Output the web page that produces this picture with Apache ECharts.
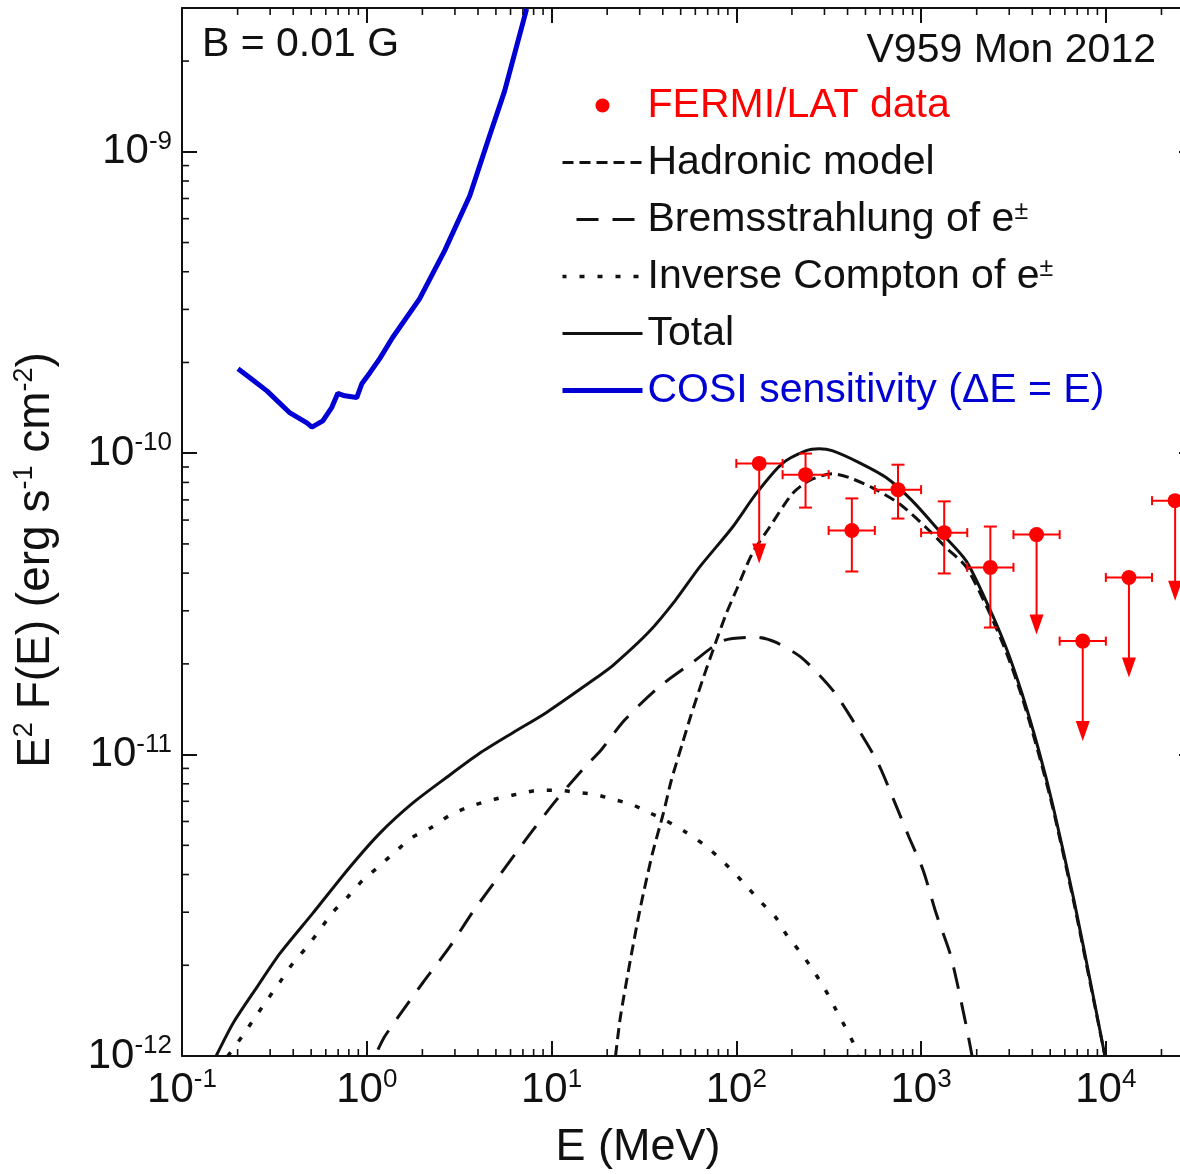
<!DOCTYPE html>
<html>
<head>
<meta charset="utf-8">
<script src="https://cdn.jsdelivr.net/npm/echarts@6/dist/echarts.min.js"></script>
<style>
  html, body { margin: 0; padding: 0; background: #ffffff; }
  #chart { width: 1180px; height: 1174px; }
</style>
</head>
<body>
<div id="chart"></div>
<script>
// ---- Axis ranges (E in MeV, E^2 F(E) in erg s^-1 cm^-2) ----
const xRange = [0.1, 30000];
const yRange = [1e-12, 3e-9];

// ---- Model curves ----
const totalE = [0.153, 0.189, 0.254, 0.339, 0.511, 0.809, 1.175, 1.77, 2.71, 4.08, 6.15, 9.4, 18.2, 21.6, 33.4, 46.8, 63.1, 95.1, 128, 177, 239, 281, 330, 462, 647, 894, 1250, 1750, 2330, 2880, 3510, 4340, 5180, 6720, 8300, 9890];
const totalF = [1.0e-12, 1.285e-12, 1.69e-12, 2.19e-12, 2.98e-12, 4.23e-12, 5.48e-12, 6.90e-12, 8.41e-12, 1.01e-11, 1.18e-11, 1.38e-11, 1.83e-11, 1.98e-11, 2.54e-11, 3.25e-11, 4.18e-11, 5.67e-11, 7.34e-11, 9.24e-11, 1.02e-10, 1.035e-10, 1.02e-10, 9.31e-11, 8.30e-11, 6.96e-11, 5.54e-11, 4.40e-11, 3.08e-11, 2.27e-11, 1.60e-11, 1.03e-11, 6.74e-12, 3.29e-12, 1.73e-12, 1.0e-12];

const hadronicE = [22.2, 23.6, 26.7, 30.3, 35.2, 40.3, 44.5, 51.1, 56.4, 65.5, 78.0, 88.3, 100, 122, 151, 201, 248, 330, 408, 543, 760, 1064, 1365, 1750, 2330, 2880, 3510, 4340, 5180, 6720, 8300, 9890];
const hadronicF = [1.0e-12, 1.35e-12, 2.08e-12, 3.12e-12, 4.71e-12, 6.39e-12, 8.22e-12, 1.09e-11, 1.33e-11, 1.76e-11, 2.39e-11, 2.94e-11, 3.51e-11, 4.65e-11, 5.67e-11, 7.34e-11, 8.11e-11, 8.55e-11, 8.30e-11, 7.69e-11, 6.81e-11, 5.67e-11, 4.86e-11, 4.20e-11, 2.98e-11, 2.20e-11, 1.56e-11, 1.0e-11, 6.6e-12, 3.22e-12, 1.70e-12, 1.0e-12];

const bremsE = [1.15, 1.25, 1.47, 2.01, 2.81, 3.74, 5.24, 7.42, 10.6, 15.1, 18.4, 24.8, 37.9, 57.8, 85.1, 131, 163, 227, 334, 451, 586, 723, 861, 1025, 1205, 1435, 1567, 1774, 1888];
const bremsF = [1.05e-12, 1.16e-12, 1.34e-12, 1.75e-12, 2.30e-12, 3.00e-12, 3.98e-12, 5.32e-12, 7.06e-12, 9.08e-12, 1.03e-11, 1.30e-11, 1.67e-11, 2.02e-11, 2.39e-11, 2.45e-11, 2.36e-11, 2.09e-11, 1.63e-11, 1.23e-11, 9.35e-12, 6.90e-12, 5.32e-12, 4.14e-12, 2.98e-12, 2.19e-12, 1.75e-12, 1.22e-12, 1.0e-12];

const icE = [0.177, 0.211, 0.248, 0.288, 0.339, 0.398, 0.474, 0.557, 0.655, 0.789, 0.951, 1.15, 1.42, 1.77, 2.25, 2.81, 3.52, 4.45, 5.44, 6.89, 8.61, 10.8, 13.6, 17.1, 21.4, 27.1, 33.4, 41.3, 52.3, 66.3, 80.0, 97.6, 115, 136, 163, 189, 225, 264, 303, 343, 388, 434, 451];
const icF = [1.0e-12, 1.16e-12, 1.34e-12, 1.53e-12, 1.76e-12, 2.03e-12, 2.30e-12, 2.62e-12, 3.00e-12, 3.37e-12, 3.83e-12, 4.23e-12, 4.75e-12, 5.32e-12, 5.74e-12, 6.29e-12, 6.69e-12, 7.00e-12, 7.22e-12, 7.44e-12, 7.62e-12, 7.62e-12, 7.50e-12, 7.38e-12, 7.11e-12, 6.84e-12, 6.44e-12, 6.06e-12, 5.57e-12, 5.04e-12, 4.57e-12, 4.05e-12, 3.63e-12, 3.24e-12, 2.89e-12, 2.50e-12, 2.19e-12, 1.90e-12, 1.66e-12, 1.44e-12, 1.25e-12, 1.09e-12, 1.0e-12];

const cosiE = [0.201, 0.233, 0.288, 0.384, 0.474, 0.505, 0.578, 0.647, 0.697, 0.760, 0.883, 0.940, 1.04, 1.175, 1.38, 1.93, 2.64, 3.61, 4.62, 5.57, 7.33];
const cosiF = [1.905e-10, 1.78e-10, 1.61e-10, 1.36e-10, 1.26e-10, 1.22e-10, 1.28e-10, 1.42e-10, 1.58e-10, 1.55e-10, 1.53e-10, 1.70e-10, 1.85e-10, 2.06e-10, 2.42e-10, 3.25e-10, 4.70e-10, 7.15e-10, 1.13e-9, 1.59e-9, 2.98e-9];

// ---- Fermi/LAT spectral points (bin centre, bin edges, flux, flux errors, upper-limit flag) ----
const fermiE   = [133, 237, 422, 750, 1334, 2371, 4217, 7499, 13335, 23714];
const fermiElo = [100, 178, 316, 562, 1000, 1778, 3162, 5623, 10000, 17783];
const fermiEhi = [178, 316, 562, 1000, 1778, 3162, 5623, 10000, 17783, 31623];
const fermiF   = [9.25e-11, 8.49e-11, 5.54e-11, 7.57e-11, 5.45e-11, 4.18e-11, 5.37e-11, 2.38e-11, 3.87e-11, 6.96e-11];
const fermiFlo = [null, 6.60e-11, 4.05e-11, 6.07e-11, 3.99e-11, 2.64e-11, null, null, null, null];
const fermiFhi = [null, 9.97e-11, 7.08e-11, 9.16e-11, 6.92e-11, 5.71e-11, null, null, null, null];
const fermiUL  = [1, 0, 0, 0, 0, 0, 1, 1, 1, 1];

// ---- Styling ----
const FONT = '"Liberation Sans", Arial, Helvetica, sans-serif';
const INK = '#111111';
const RED = '#ff0000';
const BLUE = '#0000d4';
const MINOR_LEN = 7;
const ARROW_LEN = 100;

const pairs = (xs, ys) => xs.map((x, i) => [x, ys[i]]);

// minor ticks at 2..9 x 10^k inside the axis ranges
function minorValues(lo, hi) {
  const out = [];
  for (let k = Math.floor(Math.log10(lo)); k <= Math.ceil(Math.log10(hi)); k++) {
    for (let m = 2; m <= 9; m++) {
      const v = m * Math.pow(10, k);
      if (v > lo && v < hi) out.push(v);
    }
  }
  return out;
}
const xMinor = minorValues(xRange[0], xRange[1]);
const yMinor = minorValues(yRange[0], yRange[1]);
const tickData = xMinor.map(v => [v, yRange[0], 0]).concat(yMinor.map(v => [xRange[0], v, 1]));

function powLabel(value) {
  const e = Math.log10(value);
  const r = Math.round(e);
  if (Math.abs(e - r) > 1e-6) return '';
  return '{b|10}{s|' + r + '}';
}
const labelRich = {
  b: { fontSize: 42, fontFamily: FONT, color: INK, lineHeight: 46 },
  s: { fontSize: 26, fontFamily: FONT, color: INK, lineHeight: 34, verticalAlign: 'top' }
};

const axisCommon = {
  type: 'log',
  logBase: 10,
  axisLine: { show: true, onZero: false, lineStyle: { color: INK, width: 2 } },
  axisTick: { show: true, inside: true, length: 15, lineStyle: { color: INK, width: 2 } },
  minorTick: { show: false },
  splitLine: { show: false },
  minorSplitLine: { show: false }
};

function renderTicks(params, api) {
  const cs = params.coordSys;
  const st = { stroke: INK, lineWidth: 1.6 };
  if (api.value(2) === 0) {
    const x = api.coord([api.value(0), yRange[0]])[0];
    const yb = cs.y + cs.height, yt = cs.y;
    return { type: 'group', children: [
      { type: 'line', shape: { x1: x, y1: yb, x2: x, y2: yb - MINOR_LEN }, style: st },
      { type: 'line', shape: { x1: x, y1: yt, x2: x, y2: yt + MINOR_LEN }, style: st }
    ] };
  }
  const y = api.coord([xRange[0], api.value(1)])[1];
  const xl = cs.x, xr = cs.x + cs.width;
  return { type: 'group', children: [
    { type: 'line', shape: { x1: xl, y1: y, x2: xl + MINOR_LEN, y2: y }, style: st },
    { type: 'line', shape: { x1: xr, y1: y, x2: xr - MINOR_LEN, y2: y }, style: st }
  ] };
}

function renderFermi(params, api) {
  const e = api.value(0), f = api.value(1);
  const c = api.coord([e, f]);
  const xl = api.coord([api.value(2), f])[0];
  const xr = api.coord([api.value(3), f])[0];
  const st = { stroke: RED, lineWidth: 2 };
  const kids = [
    { type: 'line', shape: { x1: xl, y1: c[1], x2: xr, y2: c[1] }, style: st },
    { type: 'line', shape: { x1: xl, y1: c[1] - 4.5, x2: xl, y2: c[1] + 4.5 }, style: st },
    { type: 'line', shape: { x1: xr, y1: c[1] - 4.5, x2: xr, y2: c[1] + 4.5 }, style: st }
  ];
  if (api.value(6) === 1) {
    const tip = c[1] + ARROW_LEN;
    kids.push({ type: 'line', shape: { x1: c[0], y1: c[1], x2: c[0], y2: tip - 10 }, style: st });
    kids.push({ type: 'polygon', shape: { points: [[c[0] - 7, tip - 20], [c[0] + 7, tip - 20], [c[0], tip]] }, style: { fill: RED } });
  } else {
    const yt = api.coord([e, api.value(5)])[1];
    const yb = api.coord([e, api.value(4)])[1];
    kids.push({ type: 'line', shape: { x1: c[0], y1: yt, x2: c[0], y2: yb }, style: st });
    kids.push({ type: 'line', shape: { x1: c[0] - 6.5, y1: yt, x2: c[0] + 6.5, y2: yt }, style: st });
    kids.push({ type: 'line', shape: { x1: c[0] - 6.5, y1: yb, x2: c[0] + 6.5, y2: yb }, style: st });
  }
  kids.push({ type: 'circle', shape: { cx: c[0], cy: c[1], r: 7.5 }, style: { fill: RED } });
  return { type: 'group', children: kids };
}

const fermiData = fermiE.map((e, i) => [e, fermiF[i], fermiElo[i], fermiEhi[i],
  fermiFlo[i] === null ? 0 : fermiFlo[i], fermiFhi[i] === null ? 0 : fermiFhi[i], fermiUL[i]]);

const lineSeries = (name, xs, ys, color, width, dash, smooth) => ({
  name, type: 'line', data: pairs(xs, ys), symbol: 'none', smooth: smooth,
  clip: true, silent: true,
  lineStyle: { color, width, type: dash, cap: 'butt' },
  itemStyle: { color }
});

// legend entries for curves show the line sample only
const noDot = { opacity: 0 };

const chart = echarts.init(document.getElementById('chart'), null, { renderer: 'canvas' });
chart.setOption({
  animation: false,
  backgroundColor: '#ffffff',
  grid: { left: 182, top: 8, right: -14, bottom: 118, containLabel: false, outerBoundsMode: 'none' },
  xAxis: [
    Object.assign({}, axisCommon, {
      position: 'bottom', min: xRange[0], max: xRange[1],
      axisLabel: { show: true, margin: 11, formatter: powLabel, rich: labelRich, showMinLabel: true, showMaxLabel: true, hideOverlap: false }
    }),
    Object.assign({}, axisCommon, {
      position: 'top', min: xRange[0], max: xRange[1], axisLabel: { show: false }
    })
  ],
  yAxis: [
    Object.assign({}, axisCommon, {
      position: 'left', min: yRange[0], max: yRange[1],
      axisLabel: { show: true, margin: 10, formatter: powLabel, rich: labelRich, showMinLabel: true, showMaxLabel: true, hideOverlap: false }
    }),
    Object.assign({}, axisCommon, {
      position: 'right', min: yRange[0], max: yRange[1], axisLabel: { show: false }
    })
  ],
  legend: {
    show: true,
    orient: 'vertical',
    left: 560,
    top: 85,
    padding: 0,
    itemWidth: 80,
    itemHeight: 14,
    itemGap: 16,
    selectedMode: false,
    formatter: name => name.replace('e±', 'e{pm|±}'),
    textStyle: {
      fontSize: 41, fontFamily: FONT, color: INK, lineHeight: 40, padding: [0, 0, 0, 0],
      rich: { pm: { fontSize: 25, fontFamily: FONT, lineHeight: 30, verticalAlign: 'top' } }
    },
    data: [
      { name: 'FERMI/LAT data', icon: 'circle', itemStyle: { color: RED }, textStyle: { color: RED } },
      { name: 'Hadronic model', itemStyle: noDot, lineStyle: { width: 3, type: [11, 6] } },
      { name: 'Bremsstrahlung of e±', itemStyle: noDot, lineStyle: { width: 3, type: [22, 14], dashOffset: 22 } },
      { name: 'Inverse Compton of e±', itemStyle: noDot, lineStyle: { width: 3.5, type: [5, 13], dashOffset: 1 } },
      { name: 'Total', itemStyle: noDot, lineStyle: { width: 3 } },
      { name: 'COSI sensitivity (ΔE = E)', itemStyle: noDot, lineStyle: { width: 5 }, textStyle: { color: BLUE } }
    ]
  },
  graphic: [
    { type: 'text', x: 202, y: 45, style: { text: 'B = 0.01 G', fontSize: 41, fontFamily: FONT, fill: INK, align: 'left', verticalAlign: 'middle' } },
    { type: 'text', x: 1156, y: 51, style: { text: 'V959 Mon 2012', fontSize: 41, fontFamily: FONT, fill: INK, align: 'right', verticalAlign: 'middle' } },
    { type: 'text', x: 638, y: 1148, style: { text: 'E (MeV)', fontSize: 45, fontFamily: FONT, fill: INK, align: 'center', verticalAlign: 'middle' } },
    { type: 'text', x: 36, y: 560, rotation: Math.PI / 2,
      style: {
        text: '{t|E}{u|2}{t| F(E) (erg s}{u|-1}{t| cm}{u|-2}{t|)}',
        align: 'center', verticalAlign: 'middle', fill: INK,
        rich: {
          t: { fontSize: 46, fontFamily: FONT, fill: INK, lineHeight: 50 },
          u: { fontSize: 27, fontFamily: FONT, fill: INK, lineHeight: 34, verticalAlign: 'top' }
        }
      } }
  ],
  series: [
    lineSeries('Inverse Compton of e±', icE, icF, INK, 3.5, [5, 13], 0.25),
    lineSeries('Bremsstrahlung of e±', bremsE, bremsF, INK, 3, [22, 14], 0.25),
    lineSeries('Hadronic model', hadronicE, hadronicF, INK, 3, [11, 6], 0.25),
    lineSeries('Total', totalE, totalF, INK, 3, 'solid', 0.25),
    lineSeries('COSI sensitivity (ΔE = E)', cosiE, cosiF, BLUE, 5, 'solid', false),
    {
      name: 'FERMI/LAT data', type: 'custom', renderItem: renderFermi,
      data: fermiData, encode: { x: 0, y: 1 }, itemStyle: { color: RED }, silent: true, z: 5
    },
    {
      name: 'minor ticks', type: 'custom', renderItem: renderTicks,
      data: tickData, encode: { x: 0, y: 1 }, silent: true, z: 6
    }
  ]
});
</script>
</body>
</html>
